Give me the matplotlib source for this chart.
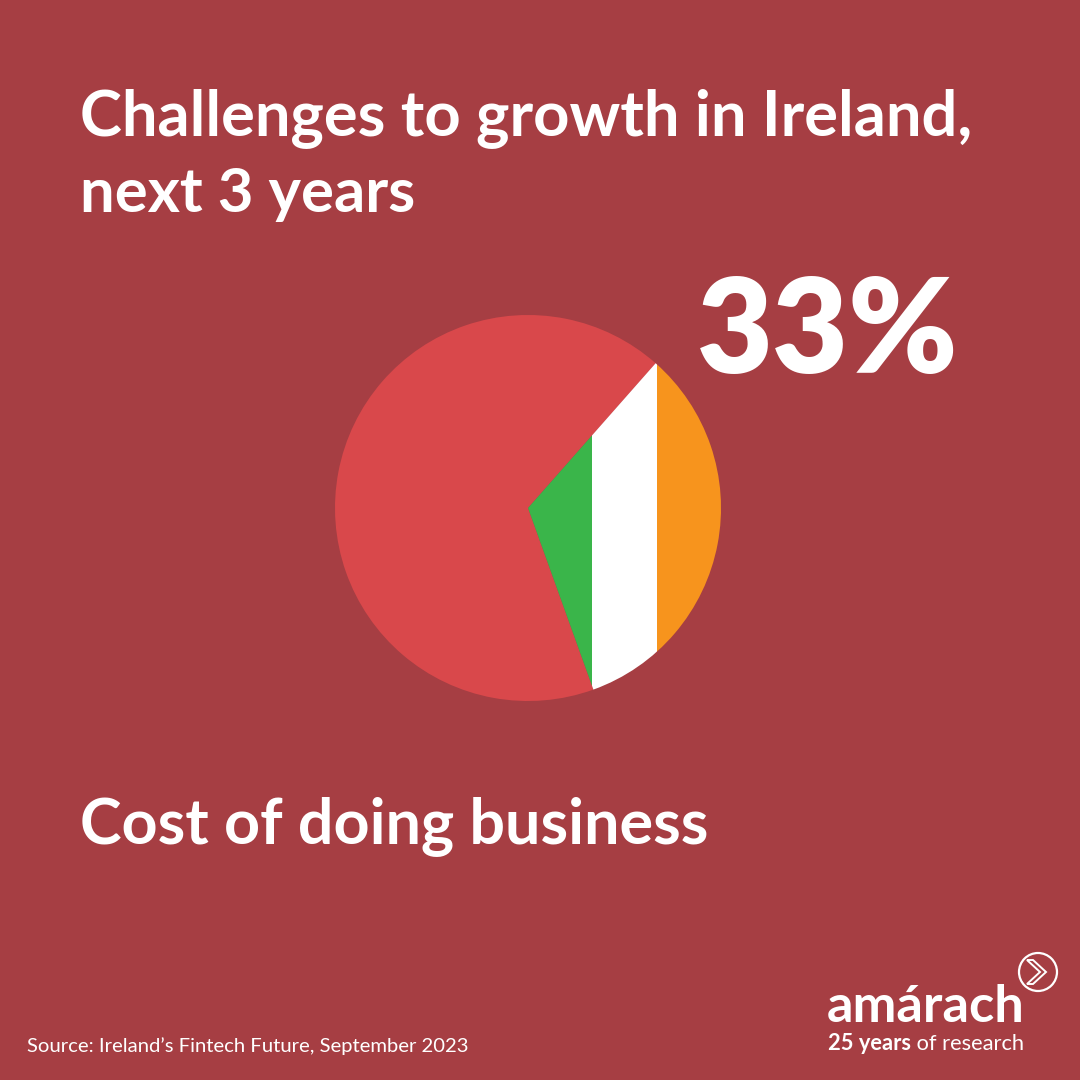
import matplotlib.pyplot as plt
from matplotlib.patches import Circle, Polygon, Rectangle

# Chart content
TITLE_LINES = ["Challenges to growth in Ireland,", "next 3 years"]
CHALLENGE = "Cost of doing business"
SHARE_PCT = 33
SOURCE = "Source: Ireland\u2019s Fintech Future, September 2023"
BRAND = "am\u00e1rach"
TAGLINE_BOLD = "25 years"
TAGLINE_REST = " of research"

# Pie: share of respondents vs the rest
PIE_VALUES = [100 - SHARE_PCT, SHARE_PCT]
FLAG_COLORS = ["#3AB54A", "#FFFFFF", "#F7941D"]

BG_COLOR = "#A63E43"
PIE_COLOR = "#D9484B"
FONT = ["Lato", "DejaVu Sans"]

W = H = 1080
fig = plt.figure(figsize=(10.8, 10.8), dpi=100, facecolor=BG_COLOR)

# Full-frame axes in pixel coordinates for text and logo
ax = fig.add_axes([0, 0, 1, 1])
ax.set_xlim(0, W)
ax.set_ylim(H, 0)
ax.axis("off")
renderer = fig.canvas.get_renderer()


def fit_text(x, y, s, width, weight="bold", size=40):
    """Place text at a baseline and scale it to a target pixel width."""
    t = ax.text(x, y, s, fontsize=size, fontweight=weight, color="white",
                family=FONT, va="baseline", ha="left")
    w = t.get_window_extent(renderer).width
    t.set_fontsize(size * width / w)
    return t


fit_text(80, 135, TITLE_LINES[0], 892)
fit_text(80, 212, TITLE_LINES[1], 335)
fit_text(697, 373, f"{SHARE_PCT}%", 261, weight="heavy")
fit_text(80, 843, CHALLENGE, 628)
fit_text(27, 1052, SOURCE, 443, weight="normal", size=14)

# Logo
fit_text(827, 1022, BRAND, 198)
tb = fit_text(828, 1050, TAGLINE_BOLD, 83, size=14)
bb = tb.get_window_extent(renderer)
x_end = ax.transData.inverted().transform((bb.x1, bb.y0))[0]
ax.text(x_end, 1050, TAGLINE_REST, fontsize=tb.get_fontsize(), color="white",
        family=FONT, va="baseline", ha="left")
ax.add_patch(Circle((1038, 972), 19, facecolor="none", edgecolor="white", lw=1.6))
ax.add_patch(Polygon([(1027, 960), (1033, 960), (1046, 972), (1033, 984),
                      (1027, 984), (1040, 972)], closed=True,
                     facecolor="none", edgecolor="white", lw=1.4))

# Pie axes centred at (528, 508) px, radius 193 px
cx, cy, r = 528, 508, 193
pax = fig.add_axes([(cx - r) / W, (H - cy - r) / H, 2 * r / W, 2 * r / H])
wedges, _ = pax.pie(PIE_VALUES, colors=[PIE_COLOR, "none"], startangle=48.6,
                    counterclock=True, radius=1, wedgeprops={"linewidth": 0})
pax.set_xlim(-1, 1)
pax.set_ylim(-1, 1)
pax.set_aspect("equal")
pax.axis("off")
share_wedge = wedges[1]
for i, color in enumerate(FLAG_COLORS):
    stripe = Rectangle((i / 3, -1), 1 / 3, 2, facecolor=color, edgecolor="none")
    pax.add_patch(stripe)
    stripe.set_clip_path(share_wedge)

fig.savefig("out.png", dpi=100, facecolor=BG_COLOR)
